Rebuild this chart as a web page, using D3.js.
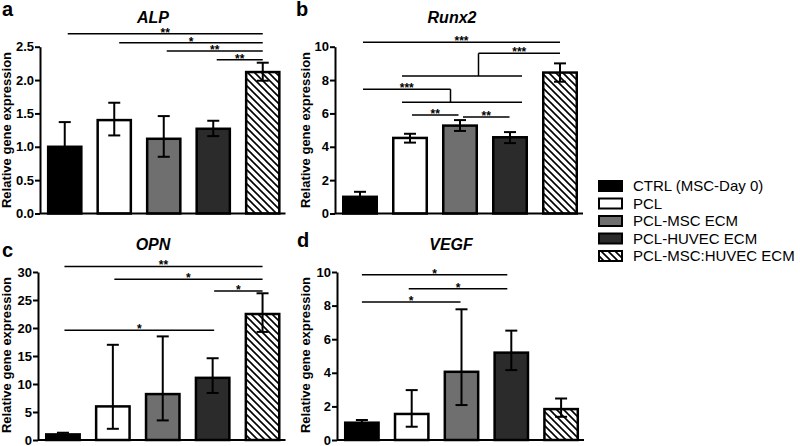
<!DOCTYPE html>
<html>
<head>
<meta charset="utf-8">
<script src="https://cdn.jsdelivr.net/npm/d3@7"></script>
<style>
  html, body { margin: 0; padding: 0; background: #fff; }
  svg { display: block; font-family: "Liberation Sans", Arial, sans-serif; }
</style>
</head>
<body>
<script>
// ---------------- DATA ----------------
const categories = ["CTRL (MSC-Day 0)", "PCL", "PCL-MSC ECM", "PCL-HUVEC ECM", "PCL-MSC:HUVEC ECM"];

const alpMean  = [1.00, 1.40, 1.12, 1.27, 2.12];
const alpLow   = [0.63, 1.17, 0.85, 1.16, 1.99];
const alpHigh  = [1.37, 1.66, 1.46, 1.39, 2.26];

const runx2Mean = [1.00, 4.53, 5.27, 4.57, 8.45];
const runx2Low  = [0.70, 4.25, 4.95, 4.22, 7.90];
const runx2High = [1.30, 4.78, 5.60, 4.88, 9.00];

const opnMean = [1.0, 6.0, 8.2, 11.1, 22.5];
const opnLow  = [0.7, 2.0, 3.5, 8.4, 19.3];
const opnHigh = [1.3, 17.0, 18.5, 14.6, 26.2];

const vegfMean = [1.03, 1.55, 4.06, 5.20, 1.84];
const vegfLow  = [0.87, 0.79, 2.08, 4.16, 1.38];
const vegfHigh = [1.19, 2.97, 7.78, 6.51, 2.47];

const alpTicks   = [0, 0.5, 1.0, 1.5, 2.0, 2.5];
const runx2Ticks = [0, 2, 4, 6, 8, 10];
const opnTicks   = [0, 5, 10, 15, 20, 25, 30];
const vegfTicks  = [0, 2, 4, 6, 8, 10];

// significance annotations: from/to in category index units, y in data units
const alpSig = [
  {from: 0.06, to: 4, y: 2.695, label: "**"},
  {from: 1.10, to: 4, y: 2.56,  label: "*"},
  {from: 2.06, to: 4, y: 2.435, label: "**"},
  {from: 3.07, to: 4, y: 2.305, label: "**"}
];
const runx2Sig = [
  {from: 0.06, to: 4, y: 10.26, label: "***"},
  {from: 2.37, to: 4, y: 9.60, label: "***", stem: {at: 2.37, y2: 8.24, from: 0.84, to: 3.24}},
  {from: 0.06, to: 1.81, y: 7.45, label: "***", stem: {at: 1.81, y2: 6.67, from: 0.84, to: 3.24}},
  {from: 1.04, to: 1.97, y: 5.91, label: "**"},
  {from: 2.06, to: 2.99, y: 5.79, label: "**"}
];
const opnSig = [
  {from: 0.03, to: 4, y: 31.0, label: "**"},
  {from: 1.03, to: 4, y: 28.7, label: "*"},
  {from: 3.03, to: 4, y: 26.6, label: "*"},
  {from: 0.03, to: 3.03, y: 19.6, label: "*"}
];
const vegfSig = [
  {from: 0.00, to: 2.92, y: 9.84, label: "*"},
  {from: 0.94, to: 2.92, y: 9.00, label: "*"},
  {from: 0.00, to: 1.98, y: 8.21, label: "*"}
];

// ---------------- STYLE ----------------
const fills = ["#000000", "#ffffff", "#6f6f6f", "#2b2b2b", "url(#hatch)"];

const svg = d3.select("body").append("svg").attr("width", 800).attr("height", 446);

const defs = svg.append("defs");
const pat = defs.append("pattern").attr("id", "hatch")
  .attr("patternUnits", "userSpaceOnUse").attr("width", 7).attr("height", 7);
pat.append("rect").attr("width", 7).attr("height", 7).attr("fill", "#fff");
pat.append("path").attr("d", "M-1,-1 L8,8 M-1,6 L1,8 M6,-1 L8,1")
  .attr("stroke", "#000").attr("stroke-width", 1.6);

const panels = [
  {letter: "a", lx: 2, ly: 16, title: "ALP", tx: 153, ty: 23, mean: alpMean, low: alpLow, high: alpHigh,
   ticks: alpTicks, fmt: d3.format(".1f"), max: 2.5, x0: 40, x1: 287.5, yZero: 213.5, yTop: 46.7, sig: alpSig,
   ylx: 10.5, yly: 130},
  {letter: "b", lx: 296, ly: 16, title: "Runx2", tx: 452, ty: 23, mean: runx2Mean, low: runx2Low, high: runx2High,
   ticks: runx2Ticks, fmt: d3.format("d"), max: 10, x0: 335, x1: 585, yZero: 213.5, yTop: 46.7, sig: runx2Sig,
   ylx: 309.5, yly: 130},
  {letter: "c", lx: 2, ly: 257, title: "OPN", tx: 153, ty: 250, mean: opnMean, low: opnLow, high: opnHigh,
   ticks: opnTicks, fmt: d3.format("d"), max: 30, x0: 38, x1: 287.5, yZero: 440, yTop: 272, sig: opnSig,
   ylx: 10.5, yly: 355},
  {letter: "d", lx: 297, ly: 247, title: "VEGF", tx: 451, ty: 250, mean: vegfMean, low: vegfLow, high: vegfHigh,
   ticks: vegfTicks, fmt: d3.format("d"), max: 10, x0: 337, x1: 586, yZero: 440, yTop: 272, sig: vegfSig,
   ylx: 309.5, yly: 355}
];

panels.forEach(p => {
  const g = svg.append("g");
  const y = d3.scaleLinear().domain([0, p.max]).range([p.yZero, p.yTop]);
  const x = d3.scaleBand().domain(d3.range(categories.length)).range([p.x0, p.x1])
    .paddingInner(0.33).paddingOuter(0.165);
  const cx = i => p.x0 + x.step() * (i + 0.5);

  g.append("text").attr("x", p.lx).attr("y", p.ly).text(p.letter)
    .attr("font-size", 20).attr("font-weight", "bold");
  g.append("text").attr("x", p.tx).attr("y", p.ty).text(p.title)
    .attr("text-anchor", "middle").attr("font-size", 16)
    .attr("font-weight", "bold").attr("font-style", "italic");
  g.append("text").attr("transform", `translate(${p.ylx},${p.yly}) rotate(-90)`)
    .attr("text-anchor", "middle").attr("font-size", 13).attr("font-weight", "bold")
    .text("Relative gene expression");

  g.selectAll("rect.bar").data(p.mean).join("rect").attr("class", "bar")
    .attr("x", (d, i) => x(i)).attr("width", x.bandwidth())
    .attr("y", d => y(d)).attr("height", d => p.yZero - y(d))
    .attr("fill", (d, i) => fills[i]).attr("stroke", "#000").attr("stroke-width", 2.5);

  const eb = g.append("g").attr("stroke", "#000").attr("stroke-width", 2);
  p.mean.forEach((m, i) => {
    const c = x(i) + x.bandwidth() / 2;
    eb.append("line").attr("x1", c).attr("x2", c).attr("y1", y(p.low[i])).attr("y2", y(p.high[i]));
    eb.append("line").attr("x1", c - 6).attr("x2", c + 6).attr("y1", y(p.high[i])).attr("y2", y(p.high[i]));
    eb.append("line").attr("x1", c - 6).attr("x2", c + 6).attr("y1", y(p.low[i])).attr("y2", y(p.low[i]));
  });

  const ax = g.append("g").attr("transform", `translate(${p.x0},0)`)
    .call(d3.axisLeft(y).tickValues(p.ticks).tickFormat(p.fmt).tickSize(5).tickSizeOuter(0).tickPadding(1));
  ax.select(".domain").attr("stroke-width", 2);
  ax.selectAll(".tick line").attr("stroke-width", 2);
  ax.selectAll(".tick text").attr("font-size", 13).attr("font-weight", "bold")
    .attr("font-family", "Liberation Sans, Arial, sans-serif").attr("fill", "#000");
  g.append("line").attr("x1", p.x0).attr("x2", p.x1 - 2).attr("y1", p.yZero).attr("y2", p.yZero)
    .attr("stroke", "#000").attr("stroke-width", 2);

  const sg = g.append("g");
  p.sig.forEach(s => {
    sg.append("line").attr("x1", cx(s.from)).attr("x2", cx(s.to)).attr("y1", y(s.y)).attr("y2", y(s.y))
      .attr("stroke", "#000").attr("stroke-width", 1.5);
    if (s.stem) {
      sg.append("line").attr("x1", cx(s.stem.at)).attr("x2", cx(s.stem.at))
        .attr("y1", y(s.y)).attr("y2", y(s.stem.y2)).attr("stroke", "#000").attr("stroke-width", 1.5);
      sg.append("line").attr("x1", cx(s.stem.from)).attr("x2", cx(s.stem.to))
        .attr("y1", y(s.stem.y2)).attr("y2", y(s.stem.y2)).attr("stroke", "#000").attr("stroke-width", 1.5);
    }
    sg.append("text").attr("x", (cx(s.from) + cx(s.to)) / 2).attr("y", y(s.y) + 3)
      .attr("text-anchor", "middle").attr("font-size", 12).attr("font-weight", "bold").text(s.label);
  });
});

// legend
const lg = svg.append("g");
categories.forEach((c, i) => {
  const yy = 186 + i * 17.5;
  lg.append("rect").attr("x", 599).attr("y", yy - 5).attr("width", 23).attr("height", 10)
    .attr("fill", fills[i]).attr("stroke", "#000").attr("stroke-width", 2);
  lg.append("text").attr("x", 633).attr("y", yy + 5.3).attr("font-size", 15).text(c);
});
</script>
</body>
</html>
